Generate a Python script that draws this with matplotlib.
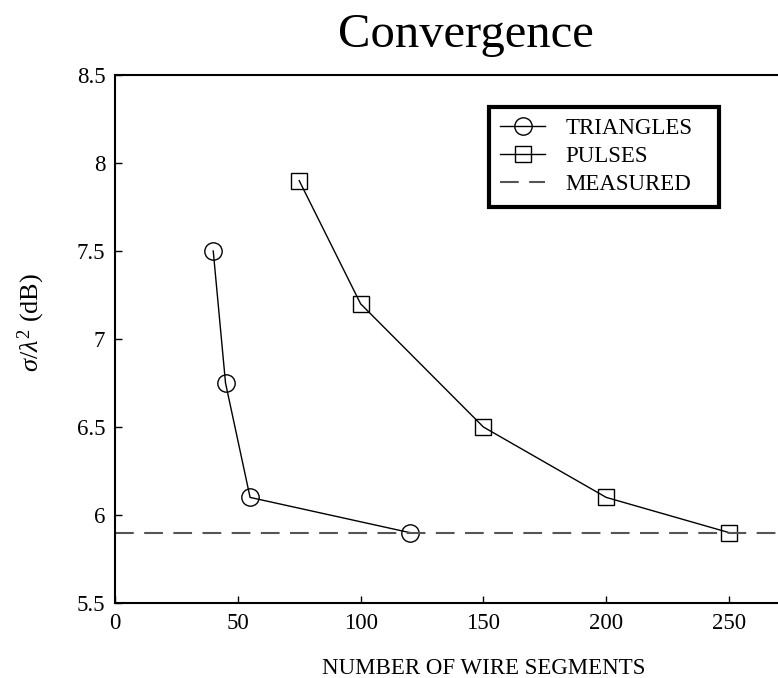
import numpy as np
import matplotlib
matplotlib.use('Agg')
import matplotlib.pyplot as plt

plt.rcParams['font.family'] = 'Liberation Serif'
plt.rcParams['mathtext.fontset'] = 'custom'
plt.rcParams['mathtext.rm'] = 'Liberation Serif'
plt.rcParams['mathtext.it'] = 'Liberation Serif:italic'

# segments vs. RCS for the two basis functions
tri_segments = [40, 45, 55, 120]
tri_rcs = [7.5, 6.75, 6.1, 5.9]
pulse_segments = [75, 100, 150, 200, 250]
pulse_rcs = [7.9, 7.2, 6.5, 6.1, 5.9]
measured_rcs = 5.9

xticks = [0, 50, 100, 150, 200, 250]
yticks = [5.5, 6, 6.5, 7, 7.5, 8, 8.5]

W, H = 778, 678
ax_w, ax_h = 300 * 2.456, 528
fig = plt.figure(figsize=(W / 100, H / 100), dpi=100)
# axes run past the right edge of the figure
ax = fig.add_axes([115 / W, 1 - 603 / H, ax_w / W, ax_h / H])

ax.plot(tri_segments, tri_rcs, color='k', lw=1, marker='o', ms=12.5,
        mfc='none', mec='k', mew=1, label='TRIANGLES')
ax.plot(pulse_segments, pulse_rcs, color='k', lw=1, marker='s', ms=11,
        mfc='none', mec='k', mew=1, label='PULSES')
ax.axhline(measured_rcs, color='#555555', lw=1.5, dashes=(9, 5),
           label='MEASURED')

ax.set_xlim(0, 300)
ax.set_ylim(5.5, 8.5)
ax.set_xticks(xticks)
ax.set_yticks(yticks)
ax.set_yticklabels(['5.5', '6', '6.5', '7', '7.5', '8', '8.5'])
ax.tick_params(direction='in', length=5, width=1, labelsize=16.5, pad=7)
for s in ['left', 'bottom', 'top']:
    ax.spines[s].set_linewidth(1.5)
ax.spines['right'].set_visible(False)

ax.set_xlabel('NUMBER OF WIRE SEGMENTS', fontsize=16.5, labelpad=17.5)
ax.set_ylabel(r'$\sigma/\lambda^2$ (dB)', fontsize=19)
ax.yaxis.set_label_coords((47 - 115) / ax_w, (603 - 322) / ax_h)
fig.text(466 / W, 1 - 35 / H, 'Convergence', fontsize=35,
         ha='center', va='center')

leg = ax.legend(loc='upper left',
                bbox_to_anchor=(489 / W, 1 - 207 / H, 230 / W, 100 / H),
                bbox_transform=fig.transFigure, mode='expand',
                fontsize=16.5, frameon=True, fancybox=False, edgecolor='k',
                framealpha=1, handlelength=1.95, handletextpad=0.9,
                labelspacing=0.3, borderpad=0.5, borderaxespad=0)
leg.get_frame().set_linewidth(3)

fig.savefig('out.png', dpi=100)
